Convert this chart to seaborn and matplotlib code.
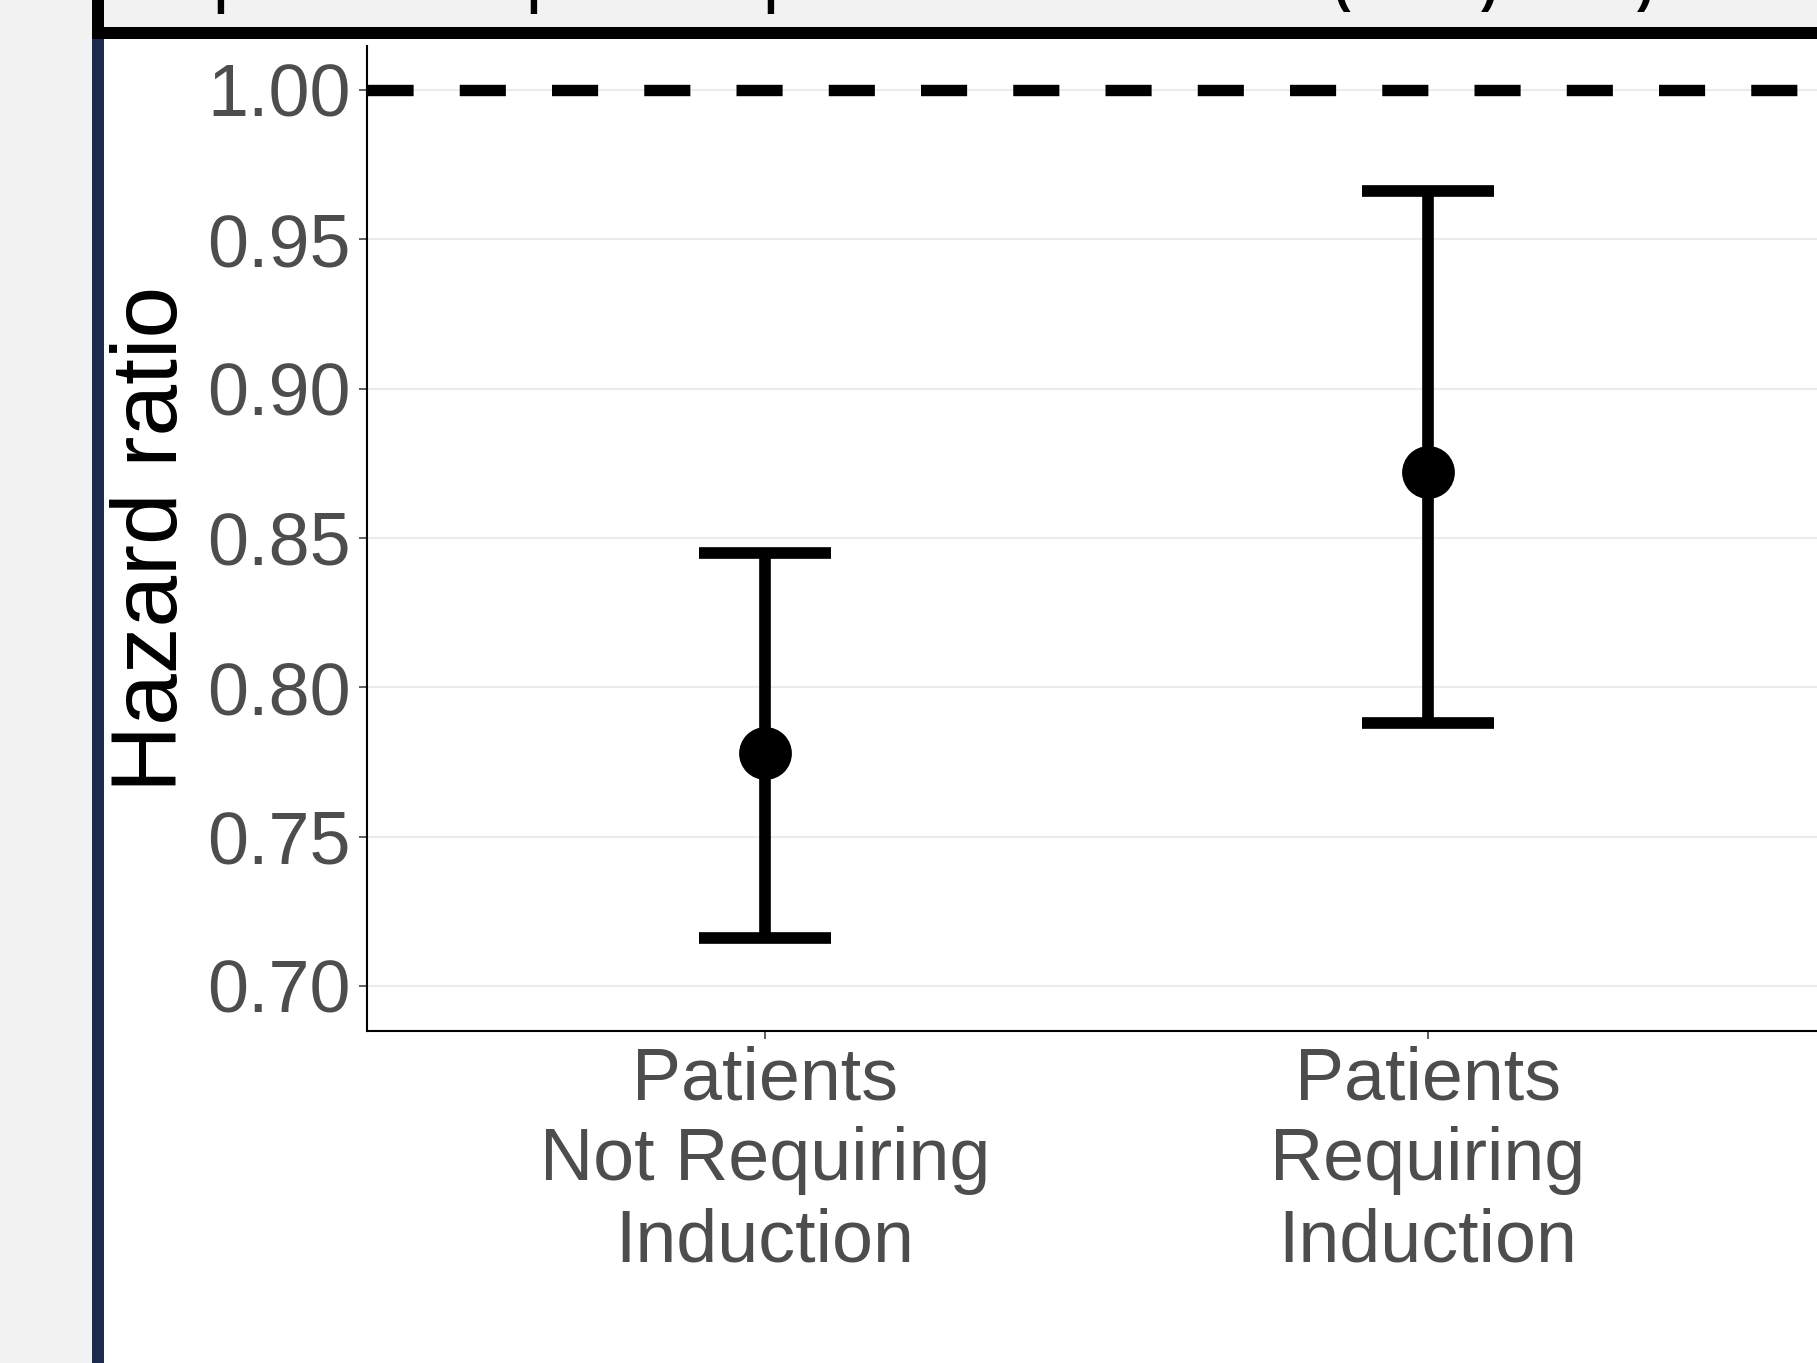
import numpy as np
import pandas as pd
import matplotlib
matplotlib.use("Agg")
import matplotlib.pyplot as plt
import seaborn as sns
from matplotlib.patches import Rectangle

# hazard ratio estimates with 95% CI per group
groups = ["Patients\nNot Requiring\nInduction", "Patients\nRequiring\nInduction"]
hr_est = [0.778, 0.872]
hr_lower = [0.716, 0.788]
hr_upper = [0.845, 0.966]
y_ticks = [0.70, 0.75, 0.80, 0.85, 0.90, 0.95, 1.00]
ref_line = 1.0

# long table: lower / estimate / upper for each group
# median of the three = estimate, min..max = CI
rows = []
for g, lo, est, up in zip(groups, hr_lower, hr_est, hr_upper):
    for v in (lo, est, up):
        rows.append({"group": g, "hr": v})
df = pd.DataFrame(rows)

sns.set_theme(style="white")
plt.rcParams["font.family"] = ["Liberation Sans", "DejaVu Sans"]

W, H = 1817, 1363
fig = plt.figure(figsize=(W / 100, H / 100), dpi=100, facecolor="#f2f2f2")

# page background pieces (white panel, navy edge, black border of panel above)
bg = [((104 / W, 0), 1 - 104 / W, 1 - 39 / H, "white"),
      ((92 / W, 0), 12 / W, 1 - 39 / H, "#1a2b4f"),
      ((92 / W, 1 - 39 / H), 1 - 92 / W, 12 / H, "black"),
      ((92 / W, 1 - 39 / H), 12 / W, 39 / H, "black")]
for xy, w, h, c in bg:
    fig.patches.append(Rectangle(xy, w, h, transform=fig.transFigure,
                                 facecolor=c, edgecolor="none", zorder=-5))

# bottoms of the text cut off in the panel above
for px, ch in [(220, "|"), (533, "|"), (770, "|"), (1342, "("), (1489, ")"), (1645, ")")]:
    fig.text(px / W, 1 - 2.5 / H, ch, fontsize=36, ha="center", va="baseline",
             color="black", fontweight="bold")

ax = fig.add_axes([367 / W, 1 - 1031 / H, (1826 - 367) / W, (1031 - 46) / H])
ax.set_facecolor("white")

ax.axhline(ref_line, color="black", linewidth=8.2, dashes=(4.05, 4.05), zorder=3)

sns.pointplot(data=df, x="group", y="hr", order=groups, estimator="median",
              errorbar=("pi", 100), capsize=0.2, color="black", marker="o",
              linestyle="none", linewidth=8.4, markersize=38, markeredgewidth=0,
              err_kws={"solid_capstyle": "butt", "solid_joinstyle": "miter"},
              ax=ax)

ax.set_xlim(-0.6, 1.6)
ax.set_ylim(0.6849, 1.0147)
ax.set_yticks(y_ticks)
ax.set_yticklabels([f"{t:.2f}" for t in y_ticks])
ax.yaxis.grid(True, color="#ebebeb", linewidth=1.5)
ax.xaxis.grid(False)
ax.set_axisbelow(True)

for s in ["top", "right"]:
    ax.spines[s].set_visible(False)
for s in ["left", "bottom"]:
    ax.spines[s].set_color("black")
    ax.spines[s].set_linewidth(1.5)

ax.tick_params(axis="both", length=5.8, width=1.1, color="#333333",
               labelcolor="#4d4d4d", labelsize=53, left=True, bottom=True)
ax.tick_params(axis="y", pad=6)
ax.tick_params(axis="x", pad=4.5)
for lab in ax.get_xticklabels():
    lab.set_linespacing(1.225)

ax.set_xlabel("")
ax.set_ylabel("Hazard ratio", fontsize=67, color="black", labelpad=8)

fig.savefig("out.png", dpi=100, facecolor=fig.get_facecolor())
